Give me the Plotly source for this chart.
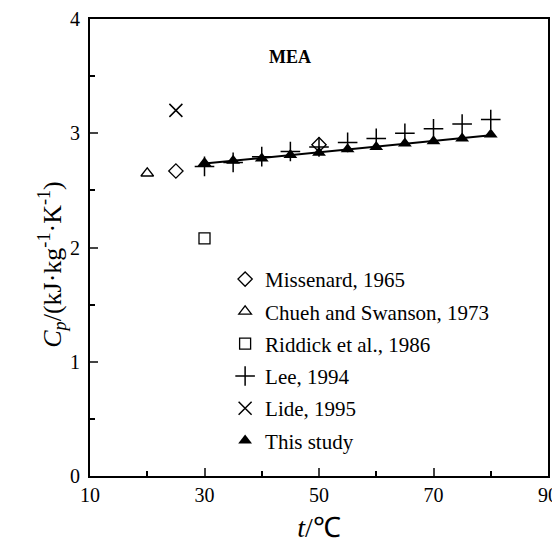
import numpy as np
import plotly.graph_objects as go

# Data
missenard_t = [25, 50]
missenard_cp = [2.67, 2.90]
chueh_t = [20]
chueh_cp = [2.65]
riddick_t = [30]
riddick_cp = [2.08]
lee_t = [30, 35, 40, 45, 50, 55, 60, 65, 70, 75, 80]
lee_cp = [2.71, 2.745, 2.795, 2.84, 2.88, 2.92, 2.955, 3.00, 3.04, 3.08, 3.12]
lide_t = [25]
lide_cp = [3.20]
study_t = [30, 35, 40, 45, 50, 55, 60, 65, 70, 75, 80]
study_cp = [2.74, 2.76, 2.78, 2.81, 2.83, 2.86, 2.88, 2.91, 2.93, 2.955, 2.99]

x_major = [10, 30, 50, 70, 90]
y_major = [0, 1, 2, 3, 4]

FONT = "Liberation Serif, Times New Roman, serif"

# linear fit of this study
coef = np.polyfit(study_t, study_cp, 1)
fit_t = [min(study_t), max(study_t)]
fit_cp = list(np.polyval(coef, fit_t))

fig = go.Figure()
fig.add_trace(go.Scatter(x=fit_t, y=fit_cp, mode="lines", line=dict(color="black", width=2),
                         showlegend=False, hoverinfo="skip"))
series = [
    (missenard_t, missenard_cp, "Missenard, 1965", dict(symbol="diamond-open", size=11, line=dict(width=1.3))),
    (chueh_t, chueh_cp, "Chueh and Swanson, 1973", dict(symbol="triangle-up-open", size=11, line=dict(width=1.3))),
    (riddick_t, riddick_cp, "Riddick et al., 1986", dict(symbol="square-open", size=11, line=dict(width=1.3))),
    (lee_t, lee_cp, "Lee, 1994", dict(symbol="cross-thin", size=14, line=dict(width=1.5, color="black"))),
    (lide_t, lide_cp, "Lide, 1995", dict(symbol="x-thin", size=13, line=dict(width=1.5, color="black"))),
    (study_t, study_cp, "This study", dict(symbol="triangle-up", size=12)),
]
for i, (xs, ys, nm, mk) in enumerate(series):
    mk["color"] = "black"
    fig.add_trace(go.Scatter(x=xs, y=ys, mode="markers", name=nm, marker=mk, legendgroup=f"g{i}"))

fig.add_annotation(x=45, y=3.67, text="<b>MEA</b>", showarrow=False,
                   font=dict(family=FONT, size=18, color="black"))

# y-axis title as a rotated annotation (placed as in the reference)
fig.add_annotation(xref="paper", yref="paper", x=-0.127, y=0.464, textangle=-90, showarrow=False,
                   text="<i>C<sub>p</sub></i>/(kJ·kg<sup>-1</sup>·K<sup>-1</sup>)",
                   font=dict(family=FONT, size=26, color="black"))

fig.update_xaxes(range=[10, 90], tickvals=x_major, ticks="inside", ticklen=8, tickwidth=1.5,
                 showline=True, linecolor="black", linewidth=2, mirror=True, showgrid=False, zeroline=False,
                 automargin=False, tickfont=dict(family=FONT, size=20, color="black"),
                 minor=dict(dtick=10, ticks="inside", ticklen=5, tickwidth=1.5, tickcolor="black", showgrid=False),
                 title=dict(text="<i>t</i>/℃", font=dict(family=FONT, size=28, color="black"), standoff=12))
fig.update_yaxes(range=[0, 4], tickvals=y_major, ticks="inside", ticklen=8, tickwidth=1.5,
                 showline=True, linecolor="black", linewidth=2, mirror=True, showgrid=False, zeroline=False,
                 automargin=False, tickfont=dict(family=FONT, size=20, color="black"), ticklabelstandoff=4,
                 minor=dict(dtick=0.5, ticks="inside", ticklen=5, tickwidth=1.5, tickcolor="black", showgrid=False))

# page body has an 8px default margin, so the figure is sized to fit the 560x550 window
fig.update_layout(width=552, height=542, margin=dict(l=82, r=12, t=11, b=74),
                  plot_bgcolor="white", paper_bgcolor="white",
                  legend=dict(x=0.295, y=0.475, xanchor="left", yanchor="top", bgcolor="rgba(0,0,0,0)",
                              font=dict(family=FONT, size=21, color="black"), itemwidth=30,
                              tracegroupgap=2),
                  font=dict(family=FONT, color="black"))

fig.write_html("out.html")
